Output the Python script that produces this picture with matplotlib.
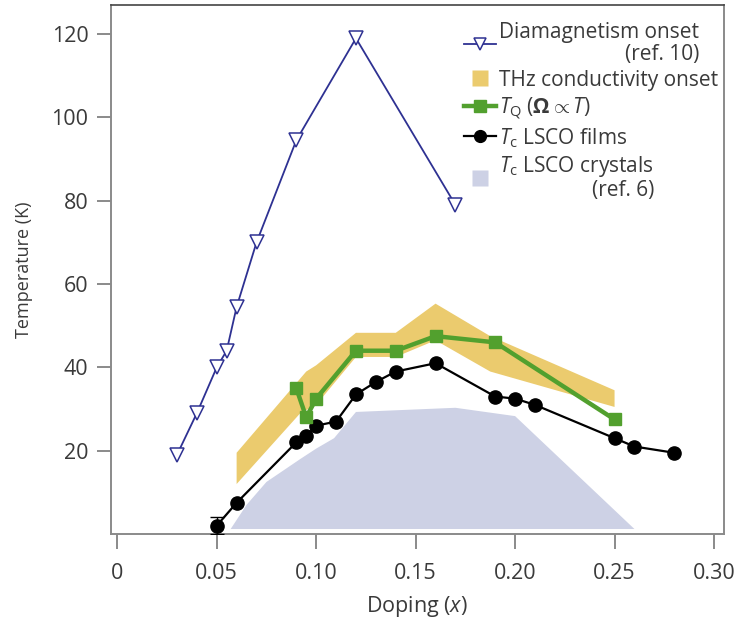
import matplotlib
matplotlib.use("Agg")
import matplotlib.pyplot as plt
from matplotlib.lines import Line2D

plt.rcParams['font.family'] = ['Open Sans', 'DejaVu Sans']
plt.rcParams['mathtext.fontset'] = 'custom'
plt.rcParams['mathtext.rm'] = 'Open Sans'
plt.rcParams['mathtext.it'] = 'Open Sans:italic'
plt.rcParams['mathtext.bf'] = 'Open Sans:bold'

# Diamagnetism onset (ref. 10)
dia_x = [0.03, 0.04, 0.05, 0.055, 0.06, 0.07, 0.09, 0.12, 0.17]
dia_y = [19, 29, 40, 44, 54.5, 70, 94.5, 119, 79]

# T_Q (Omega ~ T)
tq_x = [0.09, 0.095, 0.10, 0.12, 0.14, 0.16, 0.19, 0.25]
tq_y = [35, 28, 32.5, 44, 44, 47.5, 46, 27.5]

# Tc LSCO films
film_x = [0.05, 0.06, 0.09, 0.095, 0.10, 0.11, 0.12, 0.13, 0.14, 0.16, 0.19, 0.20, 0.21, 0.25, 0.26, 0.28]
film_y = [2, 7.5, 22, 23.5, 26, 27, 33.5, 36.5, 39, 41, 33, 32.5, 31, 23, 21, 19.5]
film_err_x = [0.05]
film_err_y = [2]
film_err = [2]

# THz conductivity onset band
thz_x = [0.06, 0.095, 0.10, 0.12, 0.14, 0.16, 0.1875, 0.25]
thz_upper = [19.5, 39, 40.5, 48.3, 48.3, 55.3, 47.5, 34.5]
thz_lower_x = [0.06, 0.092, 0.10, 0.12, 0.14, 0.16, 0.1875, 0.25]
thz_lower = [12, 29, 31, 42.5, 42.5, 46.5, 39, 30.5]

# Tc LSCO crystals (ref. 6)
cry_x = [0.057, 0.065, 0.075, 0.092, 0.10, 0.109, 0.12, 0.17, 0.20, 0.26]
cry_y = [1.2, 7, 12.5, 18, 20.5, 23, 29.3, 30.3, 28.3, 1.2]

xticks = [0, 0.05, 0.10, 0.15, 0.20, 0.25, 0.30]
xticklabels = ['0', '0.05', '0.10', '0.15', '0.20', '0.25', '0.30']
yticks = [20, 40, 60, 80, 100, 120]

navy = '#2E3192'
green = '#52A02E'
yellow = '#EBCB6E'
lav = '#CDD1E5'
spine_c = '#8A8A8A'
text_c = '#3A3A3A'

fig = plt.figure(figsize=(7.41, 6.18), dpi=100)
ax = fig.add_axes([0.1494, 0.1359, 0.977 - 0.1494, 0.992 - 0.1359])

ax.fill(cry_x, cry_y, color=lav, lw=0, zorder=1)
ax.fill(thz_x + thz_lower_x[::-1], thz_upper + thz_lower[::-1], color=yellow, lw=0, zorder=1.5)

ax.plot(film_x, film_y, '-o', color='black', lw=1.6, ms=9.5, zorder=3)
ax.errorbar(film_err_x, film_err_y, yerr=film_err, fmt='none', ecolor='black', elinewidth=1, capsize=5, capthick=1, zorder=3)
ax.plot(tq_x, tq_y, '-s', color=green, lw=3.2, ms=9, zorder=4)
ax.plot(dia_x, dia_y, '-v', color=navy, lw=1.3, ms=10, mfc='white', mec=navy, mew=1.1, zorder=5)

ax.set_xlim(-0.0033, 0.305)
ax.set_ylim(0, 127)
ax.set_xticks(xticks)
ax.set_xticklabels(xticklabels)
ax.set_yticks(yticks)

for s in ax.spines.values():
    s.set_color(spine_c)
    s.set_linewidth(1.4)
ax.spines['top'].set_color('#444444')
ax.spines['top'].set_linewidth(1.2)
ax.tick_params(axis='both', direction='out', length=10, width=1.4, color=spine_c,
               labelsize=15.5, labelcolor=text_c)
ax.tick_params(axis='y', pad=6)
ax.tick_params(axis='x', length=11, pad=10)

ax.set_xlabel('Doping ($x$)', fontsize=15.5, color=text_c, labelpad=7)
ax.set_ylabel('Temperature (K)', fontsize=13, color=text_c, labelpad=13)

handles = [
    Line2D([], [], color=navy, lw=1.3, marker='v', ms=9, mfc='white', mec=navy, mew=1.1),
    Line2D([], [], ls='none', marker='s', ms=11, color=yellow, mec='none'),
    Line2D([], [], color=green, lw=3.2, marker='s', ms=8),
    Line2D([], [], color='black', lw=1.6, marker='o', ms=8.5),
    Line2D([], [], ls='none', marker='s', ms=11, color=lav, mec='none'),
]
labels = [
    'Diamagnetism onset\n(ref. 10)',
    'THz conductivity onset',
    r'$T_{\mathrm{Q}}$ ($\mathbf{\Omega} \propto T$)',
    r'$T_{\mathrm{c}}$ LSCO films',
    r'$T_{\mathrm{c}}$ LSCO crystals' + '\n(ref. 6)',
]
leg = ax.legend(handles, labels, loc='upper right', bbox_to_anchor=(1.015, 0.995),
                frameon=False, fontsize=15, handlelength=1.55, handletextpad=0.15,
                labelspacing=0.22, borderpad=0.2, handleheight=0.8)
for t in leg.get_texts():
    t.set_multialignment('right')
    t.set_color(text_c)
    t.set_linespacing(1.08)

fig.savefig('out.png', dpi=100)
